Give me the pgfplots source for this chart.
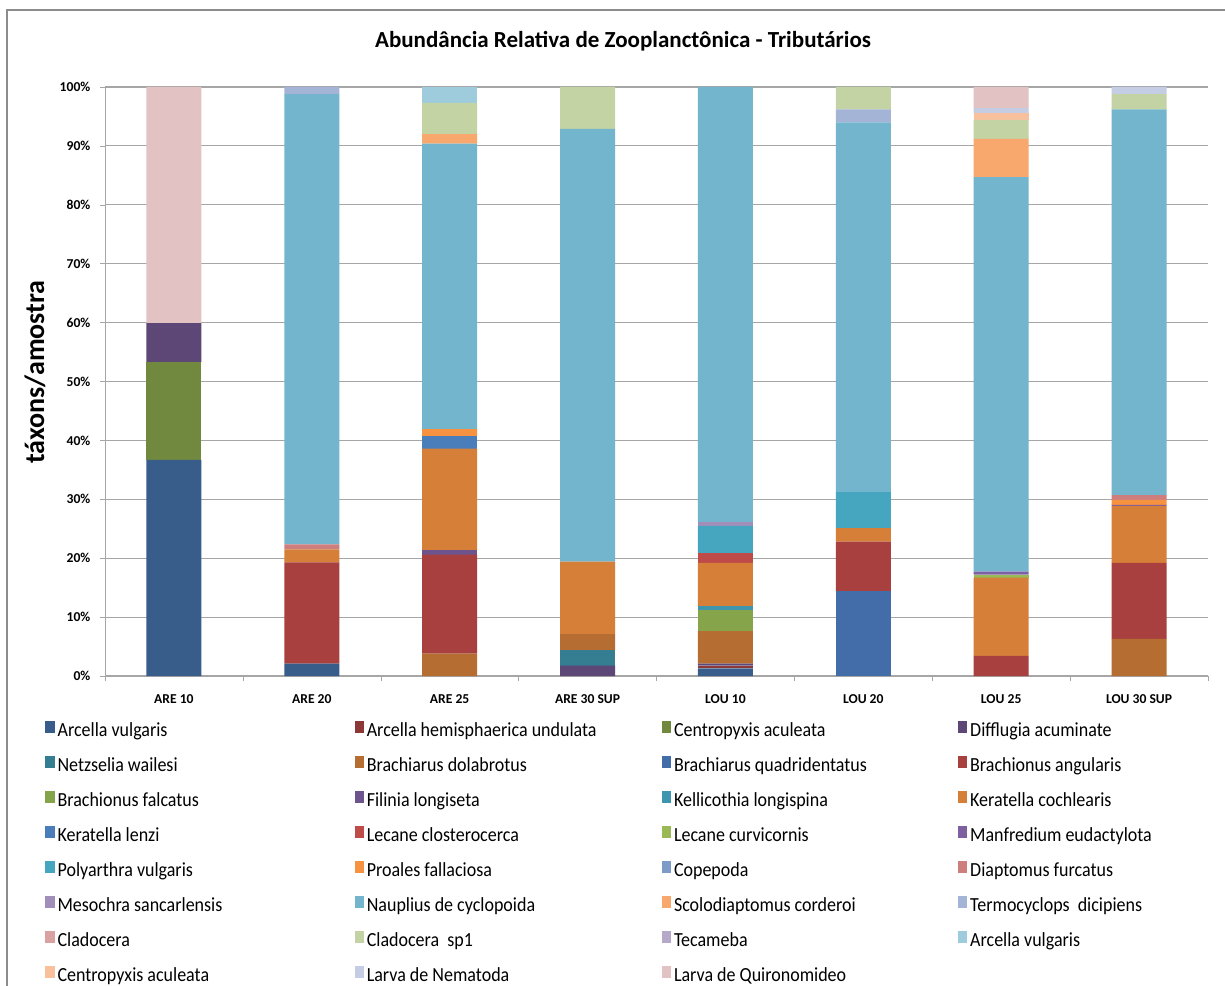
\documentclass[border=0pt]{standalone}
\usepackage{pgfplots}
\pgfplotsset{compat=1.18}
\usepackage{fontspec}
\setmainfont{Carlito}

\definecolor{c1}{HTML}{385D8A}
\definecolor{c2}{HTML}{8C3836}
\definecolor{c3}{HTML}{71893F}
\definecolor{c4}{HTML}{5C4776}
\definecolor{c5}{HTML}{357D91}
\definecolor{c6}{HTML}{B66D31}
\definecolor{c7}{HTML}{426DA9}
\definecolor{c8}{HTML}{A7403E}
\definecolor{c9}{HTML}{86A44A}
\definecolor{c10}{HTML}{6E548D}
\definecolor{c11}{HTML}{3D96AE}
\definecolor{c12}{HTML}{D67F38}
\definecolor{c13}{HTML}{4A7EBB}
\definecolor{c14}{HTML}{BE4B48}
\definecolor{c15}{HTML}{98B954}
\definecolor{c16}{HTML}{7D60A0}
\definecolor{c17}{HTML}{46A6C0}
\definecolor{c18}{HTML}{F69240}
\definecolor{c19}{HTML}{7E9BC8}
\definecolor{c20}{HTML}{CE7E7D}
\definecolor{c21}{HTML}{A18FBA}
\definecolor{c22}{HTML}{72B5CD}
\definecolor{c23}{HTML}{F9A86D}
\definecolor{c24}{HTML}{A4B4D6}
\definecolor{c25}{HTML}{D9A2A1}
\definecolor{c26}{HTML}{C3D3A4}
\definecolor{c27}{HTML}{B5A8C9}
\definecolor{c28}{HTML}{9FCCDC}
\definecolor{c29}{HTML}{F9C09E}
\definecolor{c30}{HTML}{C5CDE5}
\definecolor{c31}{HTML}{E3C2C3}

% one series: colour, then values for ARE 10, ARE 20, ARE 25, ARE 30 SUP, LOU 10, LOU 20, LOU 25, LOU 30 SUP
\newcommand{\ser}[9]{\addplot[fill=#1, draw=none] coordinates {(0,#2) (1,#3) (2,#4) (3,#5) (4,#6) (5,#7) (6,#8) (7,#9)};}
% legend texts, one width per legend column
\newcommand{\legA}[1]{\makebox[147pt][l]{\scalebox{0.9}[1]{#1}}}
\newcommand{\legB}[1]{\makebox[146pt][l]{\scalebox{0.9}[1]{#1}}}
\newcommand{\legC}[1]{\makebox[140.5pt][l]{\scalebox{0.9}[1]{#1}}}
\newcommand{\legD}[1]{\makebox[140pt][l]{\scalebox{0.9}[1]{#1}}}

\begin{document}
\begin{tikzpicture}
\useasboundingbox (0pt,0pt) rectangle (612.5pt,492.5pt);
\fill[white] (0pt,0pt) rectangle (612.5pt,492.5pt);
\draw[color=black!45, line width=0.6pt] (3.5pt,-15pt) -- (3.5pt,487.5pt) -- (650pt,487.5pt);
\node[font=\bfseries\fontsize{11.5}{14}\selectfont] at (311.5pt,472pt) {Abundância Relativa de Zooplanctônica - Tributários};
\node[rotate=90, font=\bfseries\fontsize{14}{16}\selectfont] at (17.5pt,306.5pt) {táxons/amostra};
\begin{axis}[
  at={(52.5pt,154.5pt)}, anchor=south west,
  scale only axis, width=551.5pt, height=294.5pt,
  xmin=-0.5, xmax=7.5, ymin=0, ymax=100,
  ybar stacked, bar width=27.5pt,
  axis x line*=bottom, axis y line*=left,
  axis line style={-, draw=black!35},
  ymajorgrids, grid style={draw=black!35, line width=0.6pt},
  ytick={0,10,...,100},
  yticklabels={0\%,10\%,20\%,30\%,40\%,50\%,60\%,70\%,80\%,90\%,100\%},
  xtick={0,...,7},
  xticklabels={ARE 10,ARE 20,ARE 25,ARE 30 SUP,LOU 10,LOU 20,LOU 25,LOU 30 SUP},
  minor xtick={-0.5,0.5,...,7.5},
  tick align=outside, major tick length=2.5pt, minor tick length=2.5pt,
  tick style={draw=black!35},
  major x tick style={draw=none},
  ticklabel style={font=\bfseries\fontsize{6.8}{8}\selectfont},
  xticklabel style={yshift=-3.5pt},
  yticklabel style={xshift=-1.3pt},
  legend columns=4,
  legend cell align=left,
  legend image code/.code={\fill[#1] (0pt,-0.6pt) rectangle (4.6pt,5.4pt);},
  legend style={at={(rel axis cs:0,0)}, anchor=north west, xshift=-30pt, yshift=-21.8pt,
    draw=none, fill=none, inner sep=0pt, row sep=6pt,
    font=\fontsize{10}{11}\selectfont,
    nodes={inner sep=1.5pt, text height=6.5pt, text depth=2pt}},
]
\ser{c1}{36.7}{2.1}{0}{0}{1.3}{0}{0}{0}
\addlegendentry{\legA{Arcella vulgaris}}
\ser{c2}{0}{0}{0}{0}{0.45}{0}{0}{0}
\addlegendentry{\legB{Arcella hemisphaerica undulata}}
\ser{c3}{16.6}{0}{0}{0}{0}{0}{0}{0}
\addlegendentry{\legC{Centropyxis aculeata}}
\ser{c4}{6.6}{0}{0}{1.75}{0.35}{0}{0}{0}
\addlegendentry{\legD{Difflugia acuminate}}
\ser{c5}{0}{0}{0}{2.6}{0}{0}{0}{0}
\addlegendentry{\legA{Netzselia wailesi}}
\ser{c6}{0}{0}{3.8}{2.75}{5.5}{0}{0}{6.3}
\addlegendentry{\legB{Brachiarus dolabrotus}}
\ser{c7}{0}{0}{0}{0}{0}{14.4}{0}{0}
\addlegendentry{\legC{Brachiarus quadridentatus}}
\ser{c8}{0}{17.2}{16.8}{0}{0}{8.4}{3.4}{12.9}
\addlegendentry{\legD{Brachionus angularis}}
\ser{c9}{0}{0}{0}{0}{3.6}{0}{0}{0}
\addlegendentry{\legA{Brachionus falcatus}}
\ser{c10}{0}{0}{0.8}{0}{0}{0}{0}{0}
\addlegendentry{\legB{Filinia longiseta}}
\ser{c11}{0}{0}{0}{0}{0.7}{0}{0}{0}
\addlegendentry{\legC{Kellicothia longispina}}
\ser{c12}{0}{2.2}{17.2}{12.3}{7.3}{2.3}{13.3}{9.7}
\addlegendentry{\legD{Keratella cochlearis}}
\ser{c13}{0}{0}{2.1}{0}{0}{0}{0}{0}
\addlegendentry{\legA{Keratella lenzi}}
\ser{c14}{0}{0}{0}{0}{1.6}{0}{0}{0}
\addlegendentry{\legB{Lecane closterocerca}}
\ser{c15}{0}{0}{0}{0}{0}{0}{0.5}{0}
\addlegendentry{\legC{Lecane curvicornis}}
\ser{c16}{0}{0}{0}{0}{0}{0}{0.5}{0.15}
\addlegendentry{\legD{Manfredium eudactylota}}
\ser{c17}{0}{0}{0}{0}{4.7}{6.1}{0}{0}
\addlegendentry{\legA{Polyarthra vulgaris}}
\ser{c18}{0}{0}{1.2}{0}{0}{0}{0}{0.85}
\addlegendentry{\legB{Proales fallaciosa}}
\ser{c19}{0}{0}{0}{0}{0}{0}{0}{0}
\addlegendentry{\legC{Copepoda}}
\ser{c20}{0}{0.85}{0}{0}{0}{0}{0}{0.8}
\addlegendentry{\legD{Diaptomus furcatus}}
\ser{c21}{0}{0}{0}{0}{0.6}{0}{0}{0}
\addlegendentry{\legA{Mesochra sancarlensis}}
\ser{c22}{0}{76.45}{48.5}{73.5}{73.9}{62.8}{67.0}{65.5}
\addlegendentry{\legB{Nauplius de cyclopoida}}
\ser{c23}{0}{0}{1.6}{0}{0}{0}{6.5}{0}
\addlegendentry{\legC{Scolodiaptomus corderoi}}
\ser{c24}{0}{1.2}{0}{0}{0}{2.2}{0}{0}
\addlegendentry{\legD{Termocyclops\ \ dicipiens}}
\ser{c25}{0}{0}{0}{0}{0}{0}{0}{0}
\addlegendentry{\legA{Cladocera}}
\ser{c26}{0}{0}{5.3}{7.1}{0}{3.8}{3.2}{2.6}
\addlegendentry{\legB{Cladocera\ \ sp1}}
\ser{c27}{0}{0}{0}{0}{0}{0}{0}{0}
\addlegendentry{\legC{Tecameba}}
\ser{c28}{0}{0}{2.7}{0}{0}{0}{0}{0}
\addlegendentry{\legD{Arcella vulgaris}}
\ser{c29}{0}{0}{0}{0}{0}{0}{1.1}{0}
\addlegendentry{\legA{Centropyxis aculeata}}
\ser{c30}{0}{0}{0}{0}{0}{0}{0.9}{1.2}
\addlegendentry{\legB{Larva de Nematoda}}
\ser{c31}{40.1}{0}{0}{0}{0}{0}{3.6}{0}
\addlegendentry{\legC{Larva de Quironomideo}}
\end{axis}
\end{tikzpicture}
\end{document}
